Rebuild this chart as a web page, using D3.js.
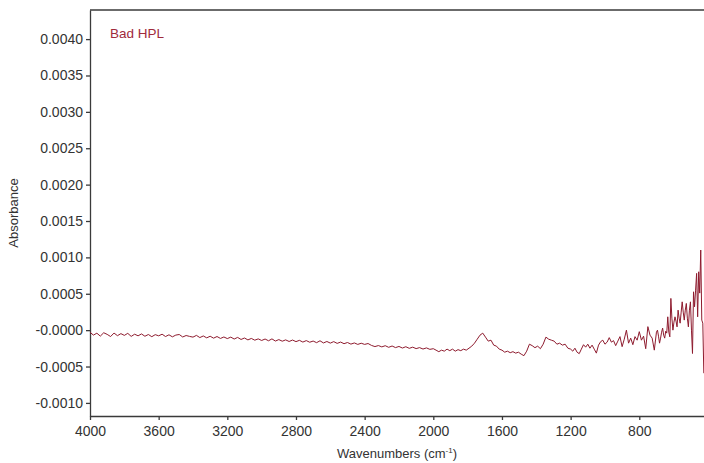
<!DOCTYPE html>
<html>
<head>
    <meta charset="utf-8">
    <title>Bad HPL spectrum</title>
    <script src="https://d3js.org/d3.v7.min.js"></script>
    <style>
        body {
            margin: 0;
            font-family: "Liberation Sans", Arial, sans-serif;
            background: #fff;
        }
        .axis path,
        .axis line {
            fill: none;
            stroke: #3a3a3a;
            stroke-width: 1.3px;
        }
        .axis text {
            fill: #333;
            font-size: 14px;
        }
        .axis-label {
            fill: #333;
            font-size: 13px;
        }
    </style>
</head>
<body>
    <svg id="chart" width="704" height="463"></svg>

    <script>
        // x ticks (wavenumbers) and y ticks with their printed labels
        const xTicks = [4000, 3600, 3200, 2800, 2400, 2000, 1600, 1200, 800];
        const yTicks = [-0.0010, -0.0005, 0, 0.0005, 0.0010, 0.0015, 0.0020, 0.0025, 0.0030, 0.0035, 0.0040];
        const yTickLabels = ['-0.0010', '-0.0005', '-0.0000', '0.0005', '0.0010', '0.0015', '0.0020',
                             '0.0025', '0.0030', '0.0035', '0.0040'];

        // spectrum in four evenly spaced pieces
        // 4000 -> 2000 cm-1, every 20
        const absHigh = [
            -0.000030, -0.000068, -0.000042, -0.000082, -0.000036,
            -0.000058, -0.000088, -0.000040, -0.000076, -0.000048,
            -0.000072, -0.000044, -0.000086, -0.000056, -0.000078,
            -0.000052, -0.000084, -0.000060, -0.000090, -0.000062,
            -0.000078, -0.000056, -0.000088, -0.000064, -0.000092,
            -0.000068, -0.000060, -0.000094, -0.000074, -0.000086,
            -0.000096, -0.000072, -0.000102, -0.000080, -0.000106,
            -0.000084, -0.000110, -0.000088, -0.000114, -0.000094,
            -0.000116, -0.000096, -0.000122, -0.000100, -0.000128,
            -0.000108, -0.000134, -0.000114, -0.000138, -0.000120,
            -0.000142, -0.000122, -0.000146, -0.000120, -0.000150,
            -0.000130, -0.000152, -0.000134, -0.000156, -0.000136,
            -0.000158, -0.000140, -0.000164, -0.000144, -0.000166,
            -0.000150, -0.000172, -0.000146, -0.000176, -0.000156,
            -0.000178, -0.000158, -0.000182, -0.000164, -0.000186,
            -0.000170, -0.000192, -0.000176, -0.000196, -0.000180,
            -0.000196, -0.000184, -0.000210, -0.000226, -0.000212,
            -0.000230, -0.000214, -0.000236, -0.000218, -0.000240,
            -0.000224, -0.000246, -0.000228, -0.000250, -0.000234,
            -0.000254, -0.000240, -0.000260, -0.000244, -0.000264
        ];
        // 2000 -> 1216 cm-1, every 16
        const absMid = [
            -0.000255, -0.000275, -0.000296, -0.000275, -0.000289,
            -0.000261, -0.000282, -0.000261, -0.000289, -0.000268,
            -0.000282, -0.000261, -0.000275, -0.000248, -0.000220,
            -0.000179, -0.000124, -0.000069, -0.000041, -0.000096,
            -0.000151, -0.000138, -0.000206, -0.000220, -0.000261,
            -0.000275, -0.000303, -0.000289, -0.000310, -0.000296,
            -0.000316, -0.000303, -0.000330, -0.000351, -0.000289,
            -0.000193, -0.000213, -0.000241, -0.000220, -0.000255,
            -0.000193, -0.000096, -0.000124, -0.000138, -0.000151,
            -0.000193, -0.000179, -0.000206, -0.000193, -0.000248
        ];
        // 1200 -> 700 cm-1, every 12.5
        const absLow = [
            -0.000261, -0.000289, -0.000248, -0.000303, -0.000323,
            -0.000261, -0.000200, -0.000234, -0.000193, -0.000248,
            -0.000206, -0.000261, -0.000316, -0.000206, -0.000158,
            -0.000138, -0.000193, -0.000165, -0.000103, -0.000165,
            -0.000144, -0.000213, -0.000151, -0.000089, -0.000227,
            -0.000124, 0.000000, -0.000179, -0.000110, -0.000200,
            -0.000089, -0.000138, -0.000021, -0.000138, -0.000083,
            -0.000255, 0.000048, -0.000069, -0.000110, -0.000275,
            -0.000028
        ];
        // 694 -> 424 cm-1, every 6
        const absEnd = [
            0.000000, -0.000083, -0.000179, -0.000110, -0.000028,
            0.000028, -0.000069, -0.000110, -0.000014, -0.000041,
            0.000183, -0.000028, -0.000092, 0.000436, 0.000165,
            0.000000, 0.000110, 0.000183, 0.000124, 0.000045,
            0.000275, 0.000165, 0.000096, 0.000248, 0.000389,
            0.000248, 0.000138, 0.000275, 0.000367, 0.000165,
            0.000045, 0.000275, 0.000389, 0.000000, -0.000321,
            0.000527, 0.000321, 0.000550, 0.000780, 0.000183,
            0.000802, 0.000509, 0.001101, 0.000138, 0.000096,
            -0.000592
        ];

        const pieces = [
            {start: 4000, step: 20, values: absHigh},
            {start: 2000, step: 16, values: absMid},
            {start: 1200, step: 12.5, values: absLow},
            {start: 694, step: 6, values: absEnd}
        ];
        const spectrum = [];
        pieces.forEach(p => p.values.forEach((v, i) => spectrum.push({wn: p.start - i * p.step, a: v})));

        const margin = {top: 10, right: 0, bottom: 47, left: 90};
        const width = 704 - margin.left - margin.right;
        const height = 463 - margin.top - margin.bottom;

        const svg = d3.select('#chart');
        const g = svg.append('g')
            .attr('transform', `translate(${margin.left},${margin.top})`);

        const x = d3.scaleLinear()
            .domain([4000, 423])
            .range([0, width]);
        const y = d3.scaleLinear()
            .domain([-0.00118, 0.0044])
            .range([height, 0]);

        // frame: top line
        g.append('line')
            .attr('x1', 0).attr('x2', width)
            .attr('y1', 0).attr('y2', 0)
            .attr('stroke', '#3a3a3a')
            .attr('stroke-width', 1.3);

        g.append('g')
            .attr('class', 'axis')
            .attr('transform', `translate(0,${height})`)
            .call(d3.axisBottom(x).tickValues(xTicks).tickSize(4).tickPadding(6).tickSizeOuter(0)
                .tickFormat(d3.format('d')));

        g.append('g')
            .attr('class', 'axis')
            .call(d3.axisLeft(y).tickValues(yTicks).tickSize(4).tickPadding(3).tickSizeOuter(0)
                .tickFormat((d, i) => yTickLabels[i]));

        g.append('path')
            .datum(spectrum)
            .attr('fill', 'none')
            .attr('stroke', '#8e1b2e')
            .attr('stroke-width', 1)
            .attr('d', d3.line().x(d => x(d.wn)).y(d => y(d.a)));

        g.append('text')
            .attr('x', 20)
            .attr('y', 28)
            .attr('fill', '#a02a3c')
            .style('font-size', '13.5px')
            .text('Bad HPL');

        svg.append('text')
            .attr('class', 'axis-label')
            .attr('transform', 'rotate(-90)')
            .attr('x', -213)
            .attr('y', 18)
            .style('text-anchor', 'middle')
            .text('Absorbance');

        const xl = svg.append('text')
            .attr('class', 'axis-label')
            .attr('x', 397)
            .attr('y', 458)
            .style('text-anchor', 'middle');
        xl.append('tspan').text('Wavenumbers (cm');
        xl.append('tspan').attr('dy', -5).style('font-size', '8px').text('-1');
        xl.append('tspan').attr('dy', 5).text(')');
    </script>
</body>
</html>
